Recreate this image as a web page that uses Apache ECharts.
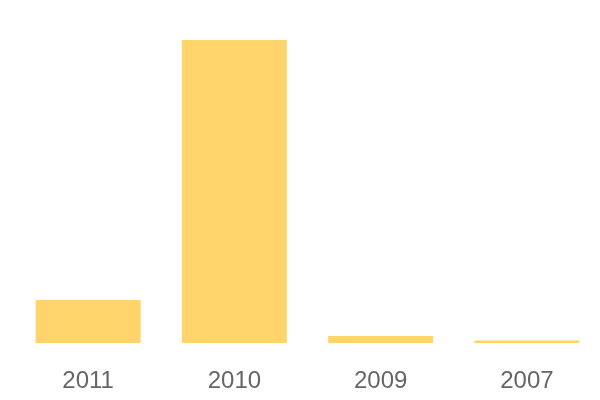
<!DOCTYPE html>
<html>
<head>
<meta charset="utf-8">
<script src="https://cdn.jsdelivr.net/npm/echarts@6/dist/echarts.min.js"></script>
<style>html,body{margin:0;padding:0;background:#fff}#c{width:600px;height:400px}</style>
</head>
<body>
<div id="c"></div>
<script>
const categories = ['2011', '2010', '2009', '2007'];
const values = [14.2, 100, 2.3, 0.8];

const chart = echarts.init(document.getElementById('c'), null, {renderer: 'canvas'});
chart.setOption({
  animation: false,
  grid: {left: 15, right: 0, top: 40, bottom: 57, containLabel: false},
  xAxis: {
    type: 'category',
    data: categories,
    axisLine: {show: false},
    axisTick: {show: false},
    axisLabel: {color: '#666666', fontSize: 24, margin: 26, fontFamily: 'Liberation Sans, Arial, sans-serif'}
  },
  yAxis: {
    type: 'value', min: 0, max: 100, show: false,
    splitLine: {show: false}
  },
  series: [{
    type: 'bar',
    data: values,
    barWidth: 105,
    itemStyle: {color: '#fed46b'}
  }]
});
</script>
</body>
</html>
